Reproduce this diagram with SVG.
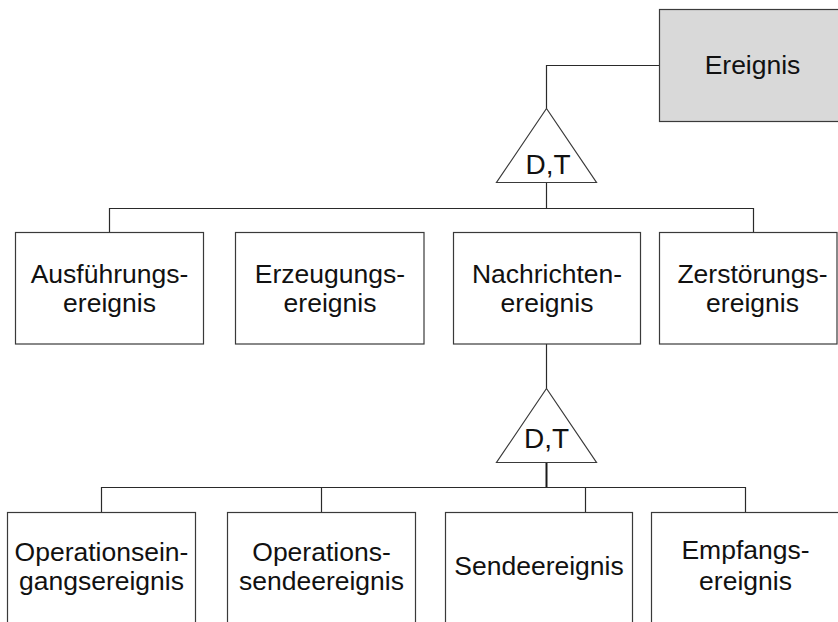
<svg xmlns="http://www.w3.org/2000/svg" width="838" height="622" viewBox="0 0 838 622">
<style>
.box{fill:#ffffff;stroke:#3a3a3a;stroke-width:1.2}
.root{fill:#d9d9d9;stroke:#3a3a3a;stroke-width:1.2}
.tri{fill:#ffffff;stroke:#3a3a3a;stroke-width:1.2}
.ln{fill:none;stroke:#2a2a2a;stroke-width:1.2}
.thick{fill:none;stroke:#1a1a1a;stroke-width:2}
text{font-family:"Liberation Sans",Arial,sans-serif;font-size:26.5px;fill:#111;text-anchor:middle}
.dt{font-size:28px}
</style>
<rect x="0" y="0" width="838" height="622" fill="#ffffff"/>
<g id="connectors">
<polyline class="ln" points="659.5,65.5 546.5,65.5 546.5,108.5"/>
<line class="ln" x1="546.5" y1="182.5" x2="546.5" y2="208.5"/>
<polyline class="ln" points="109.5,232.5 109.5,208.5 753.5,208.5 753.5,232.5"/>
<line class="ln" x1="546.5" y1="344" x2="546.5" y2="388.5"/>
<line class="thick" x1="546.5" y1="462" x2="546.5" y2="487.5"/>
<polyline class="ln" points="101.5,512.5 101.5,487.5 745.5,487.5 745.5,512.5"/>
<line class="ln" x1="321.5" y1="487.5" x2="321.5" y2="512.5"/>
<line class="ln" x1="585.5" y1="487.5" x2="585.5" y2="512.5"/>
</g>
<g id="ereignis">
<rect class="root" x="659.5" y="9.5" width="190" height="112"/>
<text x="752.5" y="74">Ereignis</text>
</g>
<g id="dt1">
<polygon class="tri" points="546.5,108.5 496.5,182.5 596.5,182.5"/>
<text class="dt" x="548" y="174">D,T</text>
</g>
<g id="ausfuehrung">
<rect class="box" x="15.5" y="232.5" width="188" height="111.5"/>
<text x="109.5" y="283">Ausführungs-</text>
<text x="109.5" y="312">ereignis</text>
</g>
<g id="erzeugung">
<rect class="box" x="235.5" y="232.5" width="188.5" height="111.5"/>
<text x="330" y="283">Erzeugungs-</text>
<text x="330" y="312">ereignis</text>
</g>
<g id="nachrichten">
<rect class="box" x="453.5" y="232.5" width="187" height="111.5"/>
<text x="547" y="283">Nachrichten-</text>
<text x="547" y="312">ereignis</text>
</g>
<g id="zerstoerung">
<rect class="box" x="659.5" y="232.5" width="177.5" height="111.5"/>
<text x="752.5" y="283">Zerstörungs-</text>
<text x="752.5" y="312">ereignis</text>
</g>
<g id="dt2">
<polygon class="tri" points="546.5,388.5 496.5,462.5 596.5,462.5"/>
<text class="dt" x="546.5" y="447.5">D,T</text>
</g>
<g id="opeingang">
<rect class="box" x="7.5" y="512.5" width="188" height="130"/>
<text x="101.5" y="561">Operationsein-</text>
<text x="101.5" y="590">gangsereignis</text>
</g>
<g id="opsende">
<rect class="box" x="227.5" y="512.5" width="188" height="130"/>
<text x="321.5" y="561">Operations-</text>
<text x="321.5" y="590">sendeereignis</text>
</g>
<g id="sende">
<rect class="box" x="445.5" y="512.5" width="187" height="130"/>
<text x="539" y="575">Sendeereignis</text>
</g>
<g id="empfang">
<rect class="box" x="651.5" y="512.5" width="190" height="130"/>
<text x="745.5" y="559">Empfangs-</text>
<text x="745.5" y="590">ereignis</text>
</g>
</svg>
